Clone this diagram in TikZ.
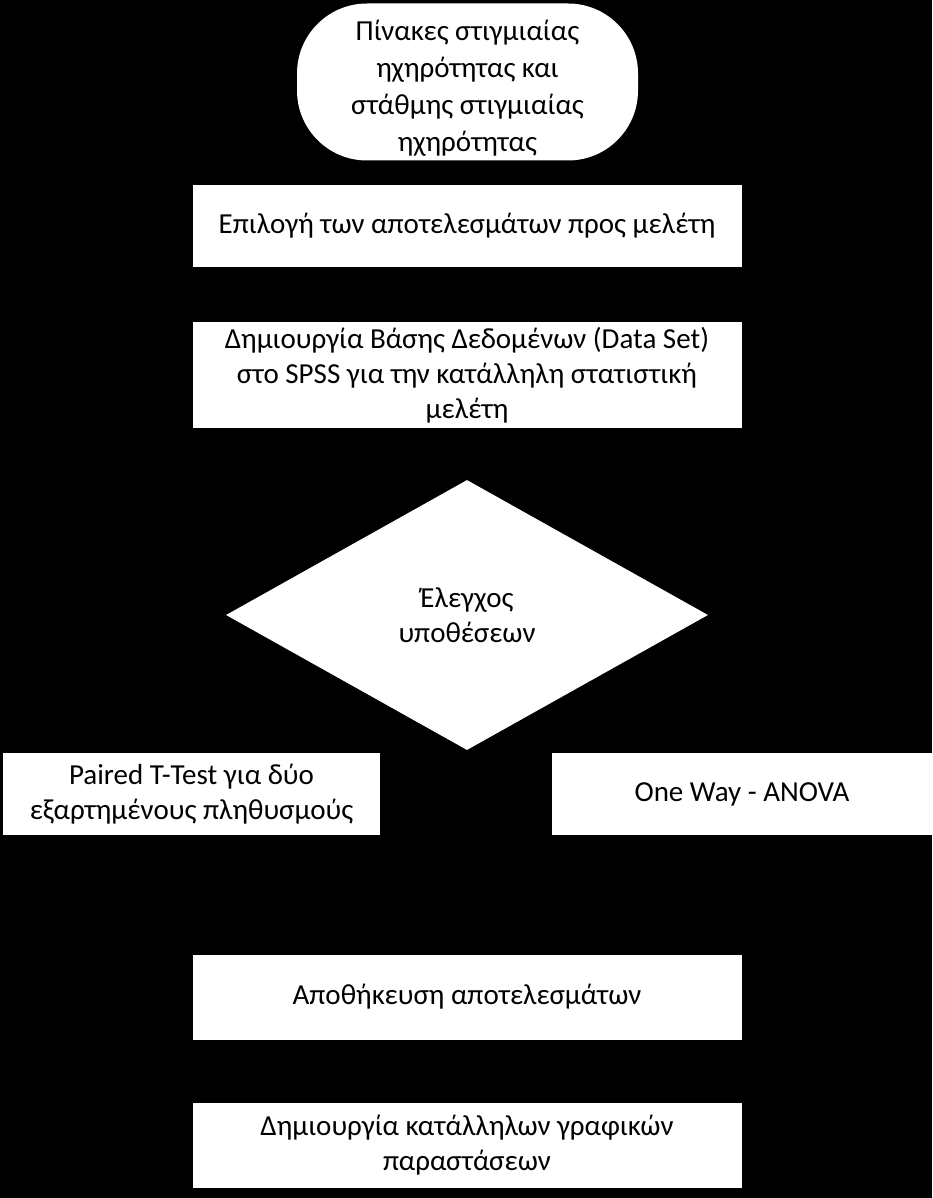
\documentclass[tikz,border=0pt]{standalone}
\usepackage{fontspec}
\setmainfont{Carlito}
\usetikzlibrary{shapes.geometric}
\begin{document}
\begin{tikzpicture}[x=1pt,y=-1pt,
    font=\fontsize{29}{35}\selectfont,
    stepbox/.style={fill=white,align=center,inner sep=0pt,minimum width=549pt},
    flow/.style={->,black,line width=1pt,shorten >=2pt,shorten <=2pt}]
    \fill[black] (0,0) rectangle (932,1198);
    \useasboundingbox (0,0) rectangle (932,1198);
    \node[stepbox,rounded corners=70pt,minimum width=341pt,minimum height=157pt,font=\fontsize{29}{37}\selectfont] (term) at (467.5,82)
        {\rule{0pt}{33pt}Πίνακες στιγμιαίας\\ηχηρότητας και\\στάθμης στιγμιαίας\\ηχηρότητας};
    \node[stepbox,minimum height=81pt] (sel) at (467,226) {Επιλογή των αποτελεσμάτων προς μελέτη};
    \node[stepbox,minimum height=106pt] (data) at (467,375)
        {Δημιουργία Βάσης Δεδομένων (Data Set)\\στο SPSS για την κατάλληλη στατιστική\\μελέτη};
    \node[diamond,fill=white,align=center,inner sep=0pt,minimum width=482pt,minimum height=270pt] (test) at (467,615)
        {Έλεγχος\\υποθέσεων};
    \node[stepbox,minimum width=377pt,minimum height=82pt] (ttest) at (191.5,794)
        {Paired T-Test για δύο\\εξαρτημένους πληθυσμούς};
    \node[stepbox,minimum width=380pt,minimum height=82pt] (anova) at (742,794) {One Way - ANOVA};
    \node[stepbox,minimum height=85pt] (store) at (467,997) {Αποθήκευση αποτελεσμάτων};
    \node[stepbox,minimum height=85pt] (last) at (467,1145)
        {Δημιουργία κατάλληλων γραφικών\\παραστάσεων};
    \foreach \a/\b in {term/sel,sel/data,data/test,test/ttest,test/anova,ttest/store,anova/store,store/last}
        \draw[flow] (\a) -- (\b);
\end{tikzpicture}
\end{document}
